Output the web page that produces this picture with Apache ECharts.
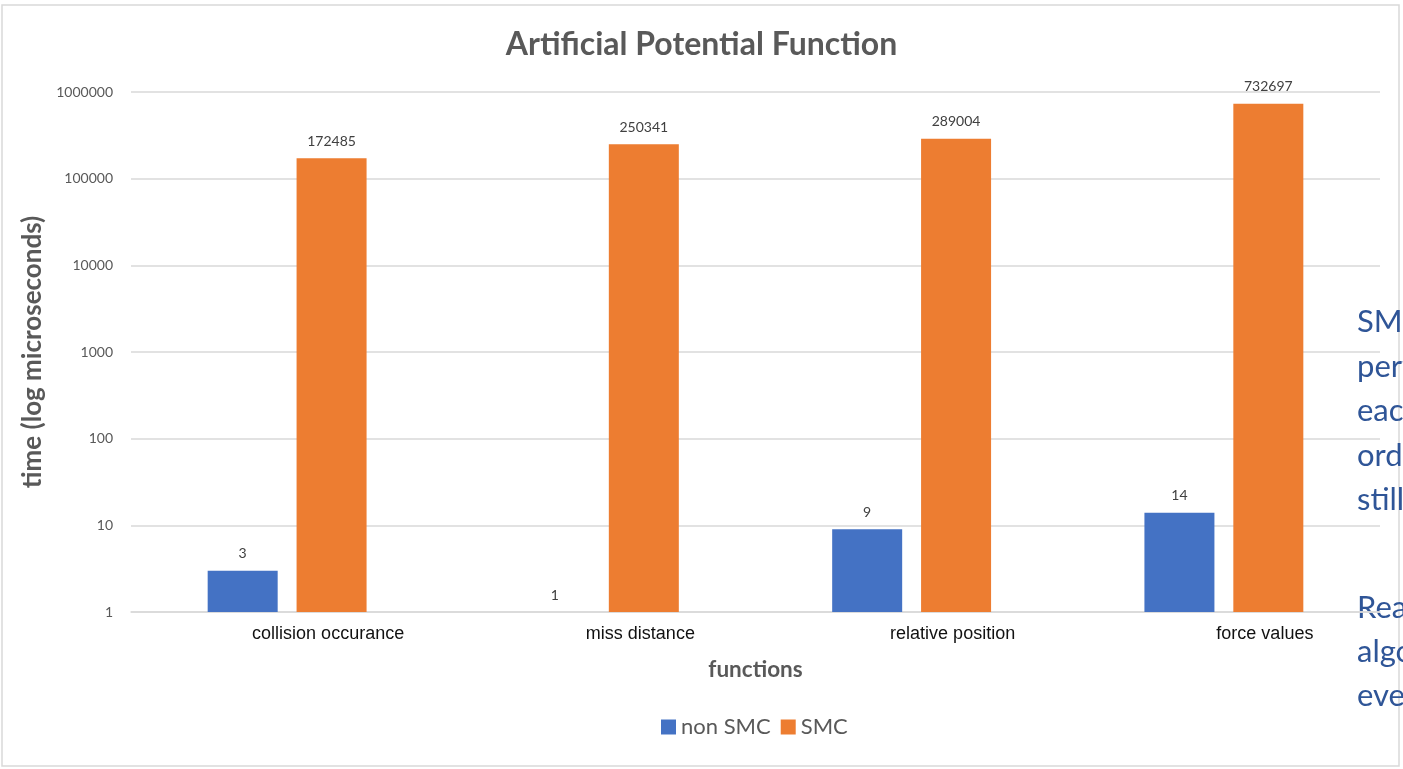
<!DOCTYPE html>
<html>
<head>
<meta charset="utf-8">
<script src="https://cdn.jsdelivr.net/npm/echarts@6/dist/echarts.min.js"></script>
<style>
  html, body { margin: 0; padding: 0; background: #fff; }
  #main { width: 1403px; height: 769px; }
</style>
</head>
<body>
<div id="main"></div>
<script>
// chart data
var categories = ["collision occurance", "miss distance", "relative position", "force values"];
var nonSmc = [3, 1, 9, 14];
var smc = [172485, 250341, 289004, 732697];
var yTicks = [1, 10, 100, 1000, 10000, 100000, 1000000];

// side note text that runs off the slide edge
var noteTop = ["SMC", "performance", "each", "order", "still"];
var noteBottom = ["Real", "algorithm", "every"];

var grey = "#595959";

var chart = echarts.init(document.getElementById("main"));

var option = {
  animation: false,
  backgroundColor: "#fff",
  title: {
    text: "Artificial Potential Function",
    left: "center",
    top: 24,
    textStyle: { fontFamily: "Lato", fontWeight: "bold", fontSize: 32, color: grey }
  },
  legend: {
    bottom: 26,
    left: 656,
    itemWidth: 15,
    itemHeight: 15,
    itemGap: 10,
    icon: "rect",
    textStyle: { fontFamily: "Lato", fontSize: 22, color: grey },
    data: ["non SMC", "SMC"]
  },
  grid: { left: 131, right: 23, top: 92, bottom: 157, containLabel: false },
  xAxis: {
    type: "category",
    data: categories,
    name: "functions",
    nameLocation: "middle",
    nameGap: 46,
    nameTextStyle: { fontFamily: "Lato", fontWeight: "bold", fontSize: 22.5, color: grey },
    axisLine: { lineStyle: { color: "#d9d9d9", width: 1.5 } },
    axisTick: { show: false },
    axisLabel: {
      fontFamily: "Liberation Sans",
      fontSize: 18,
      color: "#111",
      margin: 13,
      padding: [0, 0, 0, 82]
    }
  },
  yAxis: {
    type: "log",
    logBase: 10,
    min: 1,
    max: 1000000,
    name: "time (log microseconds)",
    nameLocation: "middle",
    nameGap: 76,
    nameTextStyle: { fontFamily: "Lato", fontWeight: "bold", fontSize: 26, color: grey },
    axisLine: { show: false },
    axisTick: { show: false },
    splitLine: { lineStyle: { color: "#d9d9d9", width: 1.5 } },
    axisLabel: {
      fontFamily: "Lato",
      fontSize: 14,
      color: grey,
      margin: 18,
      formatter: function (v) {
        var r = Math.round(v);
        return yTicks.indexOf(r) >= 0 ? String(r) : "";
      }
    }
  },
  series: [
    {
      name: "non SMC",
      type: "bar",
      data: nonSmc,
      barWidth: 70,
      barGap: "27%",
      itemStyle: { color: "#4472C4" },
      label: { show: true, position: "top", distance: 10, fontFamily: "Lato", fontSize: 14, color: "#404040" }
    },
    {
      name: "SMC",
      type: "bar",
      data: smc,
      barWidth: 70,
      itemStyle: { color: "#ED7D31" },
      label: { show: true, position: "top", distance: 10, fontFamily: "Lato", fontSize: 14, color: "#404040" }
    }
  ],
  graphic: [
    {
      type: "rect",
      shape: { x: 2, y: 5, width: 1397, height: 761 },
      style: { fill: "none", stroke: "#d9d9d9", lineWidth: 1.5 },
      silent: true
    },
    {
      type: "text",
      left: 1357,
      top: 300,
      style: {
        text: noteTop.join("\n"),
        fontFamily: "Lato",
        fontSize: 31,
        lineHeight: 44.5,
        fill: "#2F5597"
      }
    },
    {
      type: "text",
      left: 1357,
      top: 586,
      style: {
        text: noteBottom.join("\n"),
        fontFamily: "Lato",
        fontSize: 31,
        lineHeight: 44,
        fill: "#2F5597"
      }
    }
  ]
};

chart.setOption(option);
</script>
</body>
</html>
